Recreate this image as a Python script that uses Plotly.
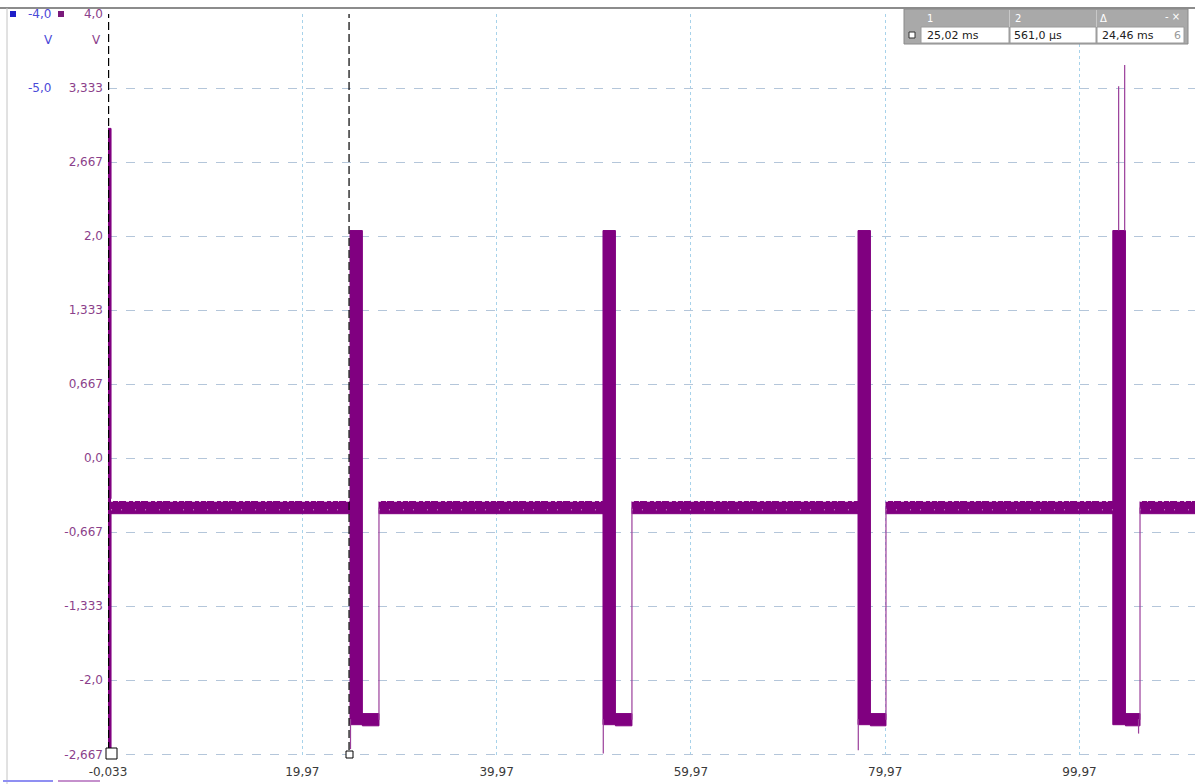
import plotly.graph_objects as go

# ---------------- data ----------------
y_tick_vals = [4.0, 3.333, 2.667, 2.0, 1.333, 0.667, 0.0, -0.667, -1.333, -2.0, -2.667]
y_tick_text = ["4,0", "3,333", "2,667", "2,0", "1,333", "0,667", "0,0", "-0,667", "-1,333", "-2,0", "-2,667"]
x_tick_vals = [-0.033, 19.97, 39.97, 59.97, 79.97, 99.97]
x_tick_text = ["-0,033", "19,97", "39,97", "59,97", "79,97", "99,97"]

# bursts (ms, V)
burst_start = [-0.40, 24.88, 50.92, 77.17, 103.40]
burst_end = [0.28, 26.15, 52.20, 78.45, 104.70]
burst_top = [2.97, 2.05, 2.05, 2.05, 2.05]
burst_bottom = [-2.62, -2.40, -2.40, -2.40, -2.40]
low_end = [0.28, 27.86, 53.90, 80.05, 106.20]
low_top = -2.30
low_bottom = -2.41
base_hi = -0.39
base_lo = -0.50
base_mid = -0.465
trace_end = 111.86

spike_t = [104.0, 104.62]
spike_v = [3.35, 3.54]
dip_t = [24.93, 50.95, 77.20, 106.05]
dip_v = [-2.62, -2.66, -2.63, -2.48]

cursor_t = [0.03, 24.78]
cursor_labels = ["1", "2", "Δ"]
cursor_values = ["25,02 ms", "561,0 µs", "24,46 ms"]
blue_labels = ["-4,0", "-5,0"]
blue_label_y = [4.0, 3.333]

X_MIN, X_MAX = -0.033, 111.86
Y_MIN, Y_MAX = -2.70, 4.0

PURPLE = "#800080"
THIN = "#9a3e9a"

# ---------------- pixel helpers for chrome ----------------
L, R, T, B = 108, 1195, 14, 758
W, H = R - L, B - T


def px(x):
    return (x - L) / W


def py(y):
    return 1 - (y - T) / H


# ---------------- build trace geometry from data ----------------
def rects(xs0, xs1, ys0, ys1):
    xs, ys = [], []
    for a, b, c, d in zip(xs0, xs1, ys0, ys1):
        xs += [a, b, b, a, a, None]
        ys += [c, c, d, d, c, None]
    return xs, ys


# baseline segments
seg_start = low_end[:]
seg_end = burst_start[1:] + [trace_end]
bx, by = rects(seg_start, seg_end, [base_hi] * len(seg_start), [base_lo] * len(seg_start))
# bursts
ux, uy = rects(burst_start, burst_end, burst_top, burst_bottom)
# low sections
lx, ly = rects(burst_end[1:], low_end[1:], [low_top] * 4, [low_bottom] * 4)

fig = go.Figure()
fig.add_trace(go.Scatter(x=bx + ux + lx, y=by + uy + ly, mode="lines", fill="toself",
                         fillcolor=PURPLE, line=dict(color=PURPLE, width=1),
                         hoverinfo="skip", showlegend=False))

# texture on baseline (white notches)
nx, ny = [], []
for a, b in zip(seg_start, seg_end):
    nx += [a, b, None]
    ny += [base_hi + 0.012, base_hi + 0.012, None]
fig.add_trace(go.Scatter(x=nx, y=ny, mode="lines",
                         line=dict(color="white", width=3, dash="2px,5px,1px,7px,3px,4px"),
                         hoverinfo="skip", showlegend=False))
mx, my = [], []
for a, b in zip(seg_start, seg_end):
    mx += [a, b, None]
    my += [base_mid, base_mid, None]
fig.add_trace(go.Scatter(x=mx, y=my, mode="lines",
                         line=dict(color="#d8b0d8", width=1, dash="1px,9px,1px,13px"),
                         hoverinfo="skip", showlegend=False))

# thin transitions back to baseline, spikes and dips
tx, ty = [], []
for t in low_end[1:]:
    tx += [t, t, None]
    ty += [(low_top + low_bottom) / 2, (base_hi + base_lo) / 2, None]
for t, v in zip(spike_t, spike_v):
    tx += [t, t, None]
    ty += [2.05, v, None]
for t, v in zip(dip_t, dip_v):
    tx += [t, t, None]
    ty += [-2.35, v, None]
fig.add_trace(go.Scatter(x=tx, y=ty, mode="lines", line=dict(color=THIN, width=1.2),
                         hoverinfo="skip", showlegend=False))

# trigger diamond
fig.add_trace(go.Scatter(x=[X_MIN - 0.3], y=[Y_MAX - 0.02], mode="markers",
                         marker=dict(symbol="diamond", size=9, color="#f2e400",
                                     line=dict(color="#b8a000", width=1)),
                         cliponaxis=False, hoverinfo="skip", showlegend=False))

shapes = []
# cursor lines
for t in cursor_t:
    shapes.append(dict(type="line", xref="x", yref="paper", x0=t, x1=t, y0=py(750), y1=1,
                       line=dict(color="black", width=1.2, dash="8px,4px")))
# cursor squares
shapes.append(dict(type="rect", xref="paper", yref="paper", x0=px(106), x1=px(117),
                   y0=py(759), y1=py(748), line=dict(color="black", width=1), fillcolor="white"))
shapes.append(dict(type="rect", xref="paper", yref="paper", x0=px(346), x1=px(353),
                   y0=py(758), y1=py(751), line=dict(color="black", width=1), fillcolor="white"))
# frame lines
shapes.append(dict(type="line", xref="paper", yref="paper", x0=px(0), x1=px(1195),
                   y0=py(8), y1=py(8), line=dict(color="#8c8c8c", width=2)))
shapes.append(dict(type="line", xref="paper", yref="paper", x0=px(7), x1=px(7),
                   y0=py(784), y1=py(8), line=dict(color="#c4c4c4", width=1)))
# channel colour bars bottom-left
shapes.append(dict(type="line", xref="paper", yref="paper", x0=px(3), x1=px(53),
                   y0=py(781), y1=py(781), line=dict(color="#8f8ff2", width=2)))
shapes.append(dict(type="line", xref="paper", yref="paper", x0=px(58), x1=px(100),
                   y0=py(781), y1=py(781), line=dict(color="#c590cc", width=2)))
# channel squares top-left
shapes.append(dict(type="rect", xref="paper", yref="paper", x0=px(10), x1=px(16),
                   y0=py(17), y1=py(11), line=dict(width=0), fillcolor="#1f1fc8"))
shapes.append(dict(type="rect", xref="paper", yref="paper", x0=px(58), x1=px(64),
                   y0=py(17), y1=py(11), line=dict(width=0), fillcolor="#7a1a7a"))

# measurement box
shapes.append(dict(type="rect", xref="paper", yref="paper", x0=px(904), x1=px(1188),
                   y0=py(44), y1=py(9), line=dict(color="#8a8a8a", width=1), fillcolor="#a9a9a9"))
for a, b in [(921, 1009), (1010, 1096), (1097, 1184)]:
    shapes.append(dict(type="rect", xref="paper", yref="paper", x0=px(a), x1=px(b),
                       y0=py(43), y1=py(27), line=dict(color="#9a9a9a", width=1), fillcolor="white"))
for xd in [1009.5, 1096.5]:
    shapes.append(dict(type="line", xref="paper", yref="paper", x0=px(xd), x1=px(xd),
                       y0=py(27), y1=py(10), line=dict(color="#c8c8c8", width=1)))
shapes.append(dict(type="rect", xref="paper", yref="paper", x0=px(909), x1=px(915),
                   y0=py(38), y1=py(32), line=dict(color="#303030", width=1), fillcolor="white"))

annotations = []
FONT = "DejaVu Sans"
# blue channel labels
for txt, yv in zip(blue_labels, blue_label_y):
    annotations.append(dict(text=txt, xref="paper", yref="y", x=px(53), y=yv, xanchor="right",
                            yanchor="middle", showarrow=False,
                            font=dict(family=FONT, size=12, color="#4a4ad8")))
annotations.append(dict(text="V", xref="paper", yref="paper", x=px(48), y=py(40), xanchor="center",
                        yanchor="middle", showarrow=False, font=dict(family=FONT, size=12, color="#4a4ad8")))
annotations.append(dict(text="V", xref="paper", yref="paper", x=px(96), y=py(40), xanchor="center",
                        yanchor="middle", showarrow=False, font=dict(family=FONT, size=12, color="#8b3f8b")))
# box header and values
for txt, xp in zip(cursor_labels, [930, 1018, 1103]):
    annotations.append(dict(text=txt, xref="paper", yref="paper", x=px(xp), y=py(19), xanchor="center",
                            yanchor="middle", showarrow=False, font=dict(family=FONT, size=10, color="white")))
annotations.append(dict(text="- ×", xref="paper", yref="paper", x=px(1172), y=py(17), xanchor="center",
                        yanchor="middle", showarrow=False, font=dict(family=FONT, size=10, color="white")))
for txt, xp in zip(cursor_values, [925, 1012, 1100]):
    annotations.append(dict(text=txt, xref="paper", yref="paper", x=px(xp), y=py(36), xanchor="left",
                            yanchor="middle", showarrow=False, font=dict(family=FONT, size=11, color="#202020")))
annotations.append(dict(text="6", xref="paper", yref="paper", x=px(1177), y=py(36), xanchor="center",
                        yanchor="middle", showarrow=False, font=dict(family=FONT, size=11, color="#9a9a9a")))

fig.update_layout(
    width=1195, height=784,
    margin=dict(l=L, r=1195 - R, t=T, b=784 - B, pad=0),
    paper_bgcolor="white", plot_bgcolor="white",
    shapes=shapes, annotations=annotations, showlegend=False,
    xaxis=dict(range=[X_MIN, X_MAX], tickvals=x_tick_vals, ticktext=x_tick_text,
               showgrid=True, gridcolor="#a7d2ea", griddash="dot", gridwidth=1,
               zeroline=False, showline=False, ticks="", ticklabelstandoff=5,
               tickfont=dict(family=FONT, size=12, color="#3a3a3a")),
    yaxis=dict(range=[Y_MIN, Y_MAX], tickvals=y_tick_vals, ticktext=y_tick_text,
               showgrid=True, gridcolor="#b4c6da", griddash="dash", gridwidth=1,
               zeroline=False, showline=False, ticks="", ticklabelstandoff=4,
               tickfont=dict(family=FONT, size=12, color="#8b3f8b")),
)

fig.write_html("out.html", config={"displayModeBar": False},
               post_script="document.body.style.margin='0px';")
